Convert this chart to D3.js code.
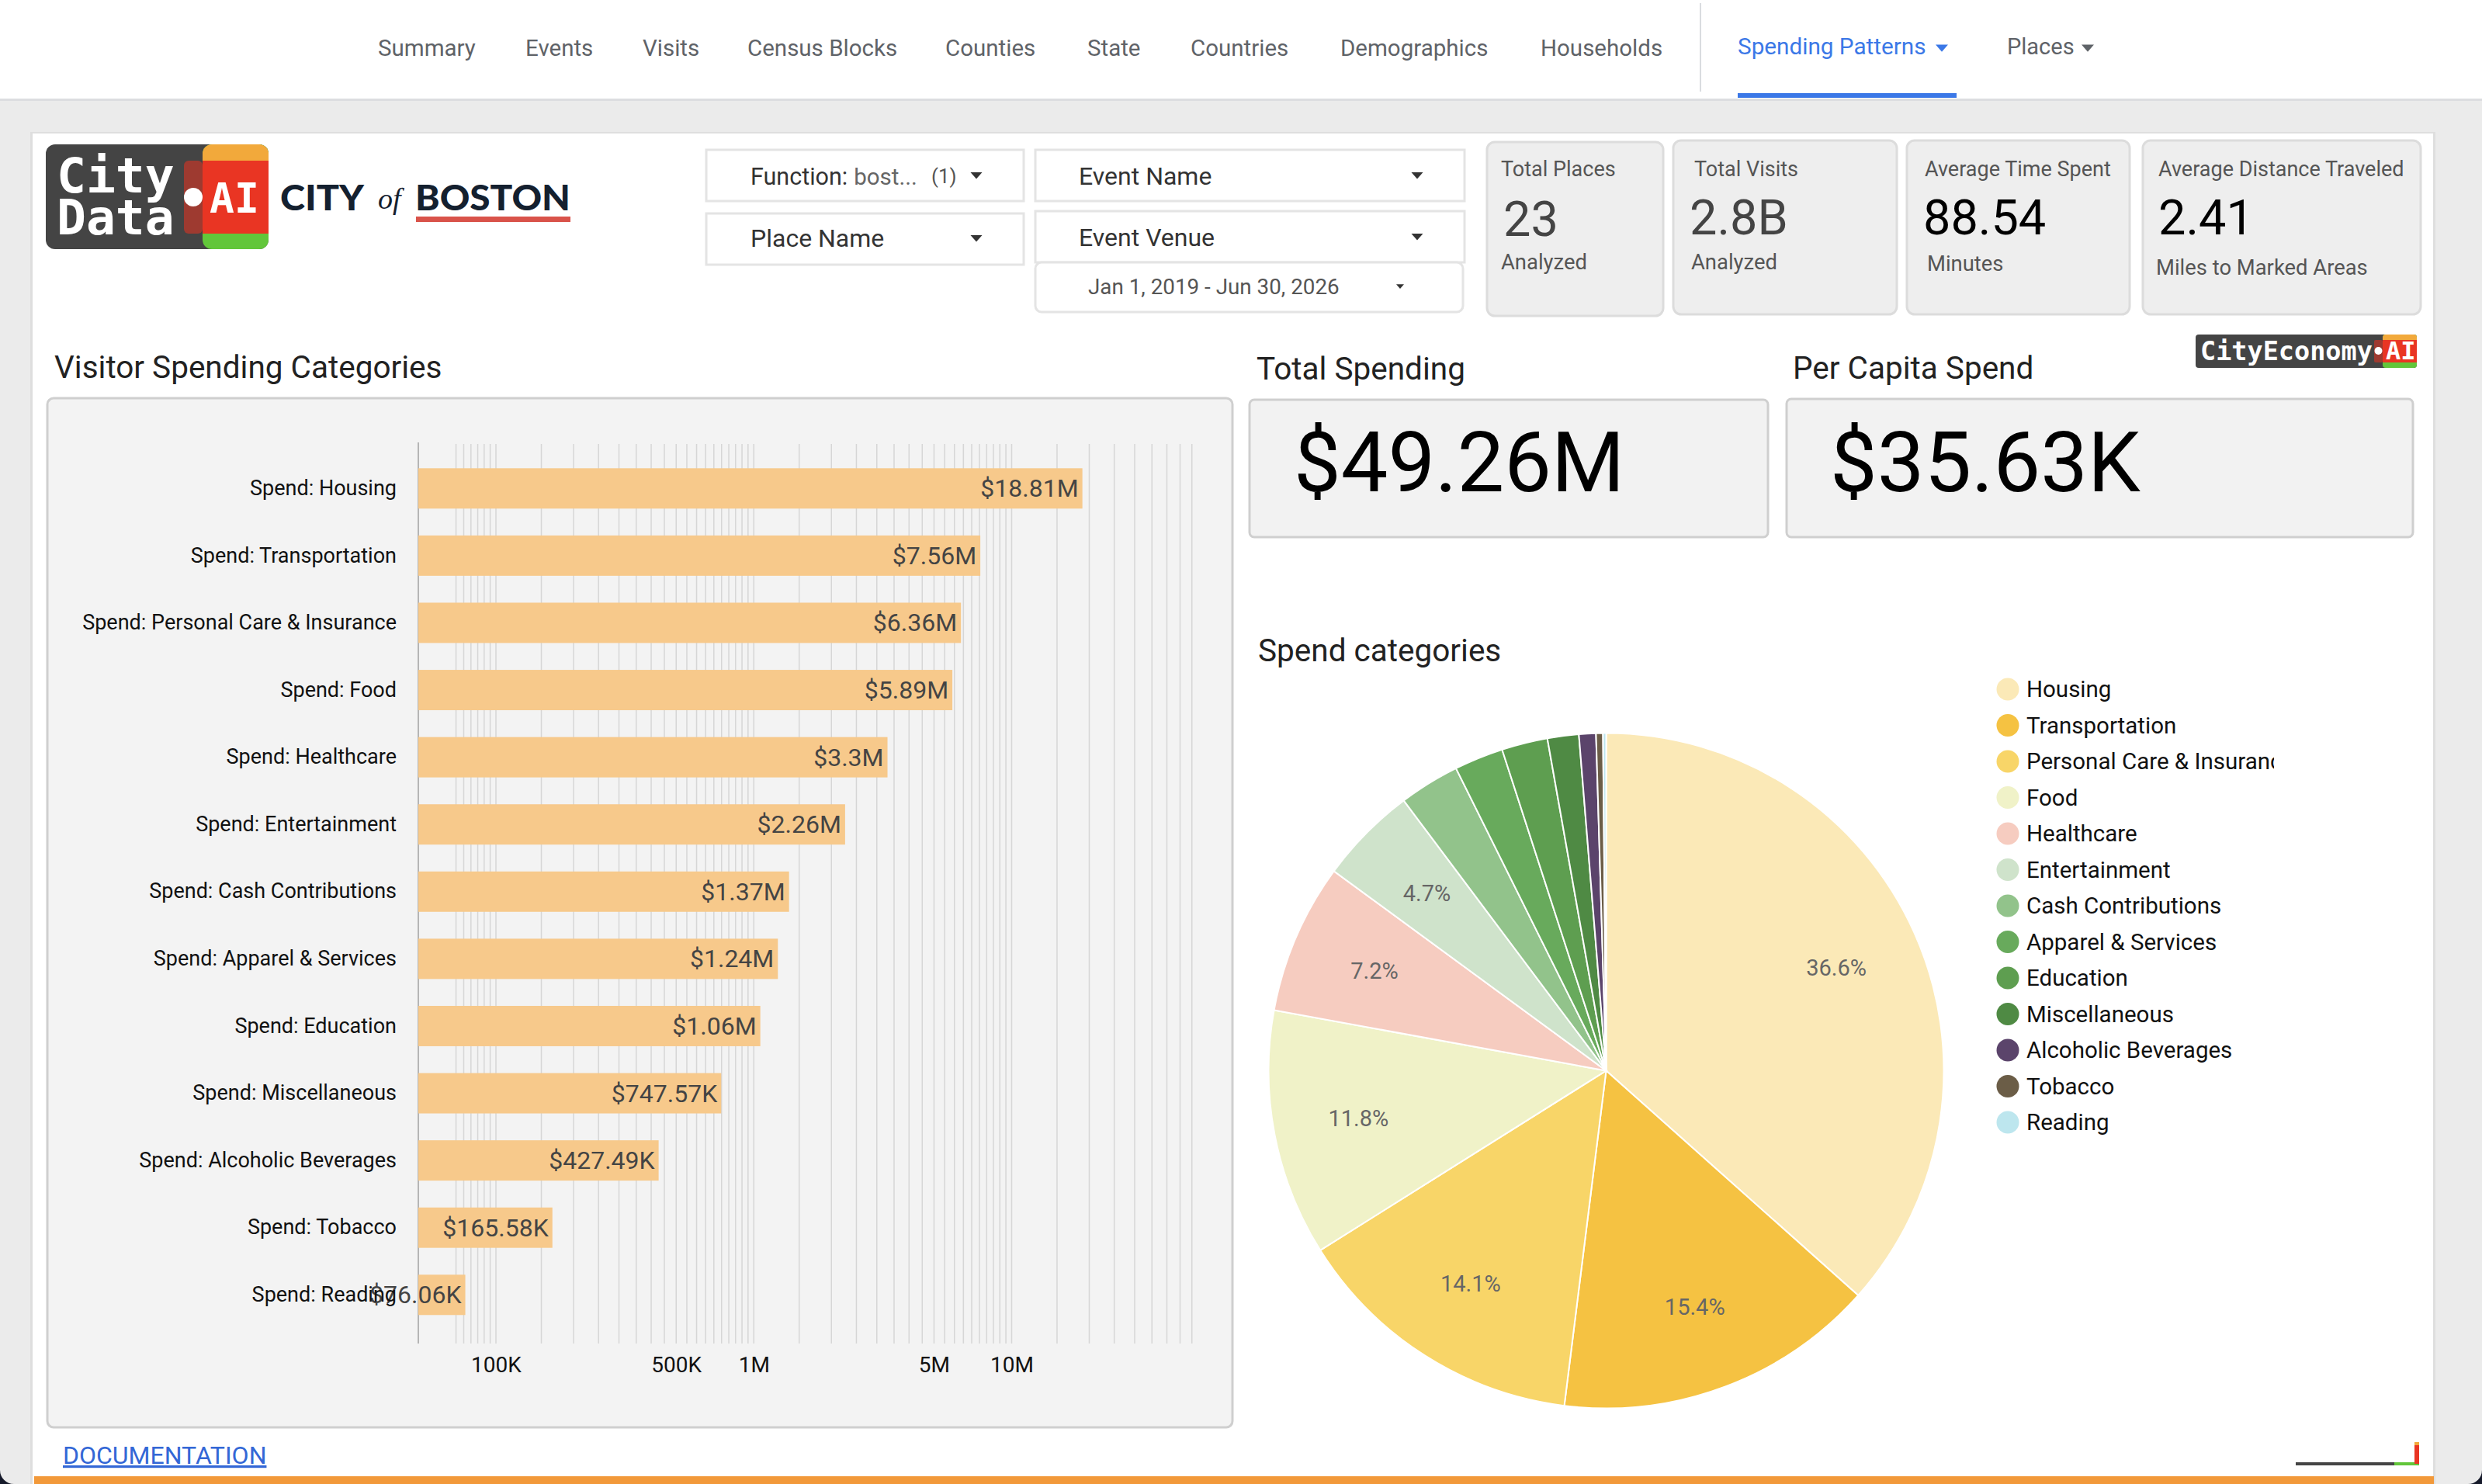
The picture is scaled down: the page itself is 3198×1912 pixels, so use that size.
<!DOCTYPE html>
<html>
<head>
<meta charset="utf-8">
<script src="https://d3js.org/d3.v7.min.js"></script>
<style>
  html, body { margin: 0; padding: 0; background: #ebebeb; }
  svg { display: block; }
  text { font-family: Roboto, sans-serif; }
</style>
</head>
<body>
<svg id="page" width="3198" height="1912" viewBox="0 0 3198 1912"></svg>
<script>
// bar chart data
var barCategories = ["Spend: Housing", "Spend: Transportation", "Spend: Personal Care & Insurance", "Spend: Food",
  "Spend: Healthcare", "Spend: Entertainment", "Spend: Cash Contributions", "Spend: Apparel & Services",
  "Spend: Education", "Spend: Miscellaneous", "Spend: Alcoholic Beverages", "Spend: Tobacco", "Spend: Reading"];
var barValues = [18810000, 7560000, 6360000, 5890000, 3300000, 2260000, 1370000, 1240000, 1060000, 747570, 427490, 165580, 76060];
var axisTicks = [100000, 500000, 1000000, 5000000, 10000000];
var axisTickLabels = ["100K", "500K", "1M", "5M", "10M"];

// pie data, percent of total
var pieCategories = ["Housing", "Transportation", "Personal Care & Insurance", "Food", "Healthcare", "Entertainment",
  "Cash Contributions", "Apparel & Services", "Education", "Miscellaneous", "Alcoholic Beverages", "Tobacco", "Reading"];
var pieShares = [36.6, 15.4, 14.1, 11.8, 7.2, 4.7, 2.9, 2.35, 2.2, 1.5, 0.81, 0.33, 0.15];
var pieColors = ["#FBE9B7", "#F5C242", "#F8D568", "#F0F2C8", "#F6CCC0", "#CFE3CB", "#92C38B", "#68AA5C", "#5E9E50",
  "#4F8A44", "#5B446B", "#6B5D47", "#BDE6EE"];

// page chrome text
var navLabels = ["Summary", "Events", "Visits", "Census Blocks", "Counties", "State", "Countries", "Demographics", "Households"];
var navStarts = [487, 677, 828, 963, 1218, 1401, 1534, 1727, 1985];
var kpiTitles = ["Total Places", "Total Visits", "Average Time Spent", "Average Distance Traveled"];
var kpiValues = ["23", "2.8B", "88.54", "2.41"];
var kpiNotes = ["Analyzed", "Analyzed", "Minutes", "Miles to Marked Areas"];

var svg = d3.select("#page");

function box(g, x, y, w, h, fill, stroke, r) {
  return g.append("rect").attr("x", x).attr("y", y).attr("width", w).attr("height", h)
    .attr("rx", r || 0).attr("fill", fill).attr("stroke", stroke || "none").attr("stroke-width", stroke ? 3 : 0);
}
function label(g, x, y, str, size, color, anchor) {
  return g.append("text").attr("x", x).attr("y", y).attr("font-size", size).attr("fill", color)
    .attr("text-anchor", anchor || "start").text(str);
}
function caret(g, x, y, s, color) {
  // small down pointing triangle
  g.append("path").attr("d", "M" + (x - s) + "," + (y - s * 0.55) + "H" + (x + s) + "L" + x + "," + (y + s * 0.6) + "Z").attr("fill", color);
}

// ---- page background and header
box(svg, 0, 0, 3198, 1912, "#ebebeb");
box(svg, 0, 0, 3198, 127, "#ffffff");
box(svg, 0, 127, 3198, 3, "#dcdde0");
box(svg, 39, 170, 3099, 1742, "#dedede");
box(svg, 42, 172, 3093, 1740, "#ffffff");

var nav = svg.append("g");
navLabels.forEach(function (d, i) { label(nav, navStarts[i], 72, d, 29.5, "#5f6368"); });
box(nav, 2190, 4, 2, 114, "#dadce0");
label(nav, 2239, 70, "Spending Patterns", 29.7, "#3b78e7");
caret(nav, 2502, 62, 8, "#3b78e7");
box(nav, 2239, 120, 282, 6, "#3b78e7");
label(nav, 2586, 70, "Places", 29, "#5f6368");
caret(nav, 2690, 62, 8, "#5f6368");

// ---- logos
function logo(g, o) {
  box(g, o.x0, o.y0, o.x1 - o.x0, o.y3 - o.y0, "#444444", null, o.r);
  box(g, o.x1 - o.cw, o.y0, o.cw, o.y3 - o.y0, "#62c63a", null, o.r);
  box(g, o.x1 - o.cw, o.y0, o.cw, (o.y3 - o.y0) * 0.5, "#f2a93b", null, o.r);
  box(g, o.x1 - o.cw, o.y1, o.cw, o.y2 - o.y1, "#e93523");
  box(g, o.x1 - o.cw - o.dw, o.y1, o.dw, o.y2 - o.y1, "#9e3a30", null, o.r / 2);
  g.append("circle").attr("cx", o.x1 - o.cw - o.dw / 2).attr("cy", o.dotY).attr("r", o.dotR).attr("fill", "#ffffff");
}
var lg = svg.append("g");
logo(lg, { x0: 59, x1: 346, y0: 186, y1: 207, y2: 301, y3: 321, cw: 85, dw: 24, r: 12, dotY: 254, dotR: 12 });
lg.selectAll("text.mono").data([["City", 248], ["Data", 302]]).join("text")
  .attr("x", 73).attr("y", function (d) { return d[1]; }).attr("fill", "#fff").attr("font-size", 63)
  .attr("font-weight", 700).style("font-family", "'DejaVu Sans Mono', monospace").text(function (d) { return d[0]; });
label(lg, 270, 274, "AI", 53, "#fff").attr("font-weight", 700).style("font-family", "'DejaVu Sans Mono', monospace");
label(lg, 361, 271, "CITY", 45, "#14202f").attr("font-weight", 900).style("font-family", "Lato, sans-serif")
  .attr("textLength", 108).attr("lengthAdjust", "spacingAndGlyphs");
label(lg, 487, 269, "of", 38, "#14202f").attr("font-style", "italic").style("font-family", "'Liberation Serif', serif");
label(lg, 535, 271, "BOSTON", 45, "#14202f").attr("font-weight", 900).style("font-family", "Lato, sans-serif")
  .attr("textLength", 200).attr("lengthAdjust", "spacingAndGlyphs");
box(lg, 536, 279, 199, 7, "#d9534a");

logo(lg, { x0: 2829, x1: 3114, y0: 431, y1: 438, y2: 467, y3: 474, cw: 44, dw: 11, r: 4, dotY: 452, dotR: 5 });
label(lg, 2835, 464, "CityEconomy", 33.5, "#fff").attr("font-weight", 700).style("font-family", "'DejaVu Sans Mono', monospace");
label(lg, 3074, 463, "AI", 32, "#fff").attr("font-weight", 700).style("font-family", "'DejaVu Sans Mono', monospace");

// ---- filter controls
var filters = svg.append("g");
box(filters, 910, 193, 409, 66, "#fff", "#e4e4e4");
box(filters, 1334, 193, 553, 66, "#fff", "#e4e4e4");
box(filters, 910, 275, 409, 66, "#fff", "#e4e4e4");
box(filters, 1334, 272, 553, 66, "#fff", "#e4e4e4");
box(filters, 1334, 338, 551, 64, "#fff", "#e4e4e4", 8);
var fn = label(filters, 967, 238, "Function:", 30.5, "#333");
fn.append("tspan").attr("dx", 8).attr("font-size", 29.5).attr("fill", "#666").text("bost...");
label(filters, 1200, 236, "(1)", 26, "#555");
label(filters, 1390, 238, "Event Name", 32, "#333");
label(filters, 967, 318, "Place Name", 32, "#333");
label(filters, 1390, 317, "Event Venue", 32, "#333");
label(filters, 1402, 379, "Jan 1, 2019 - Jun 30, 2026", 27.8, "#555");
caret(filters, 1258, 226, 7.5, "#333");
caret(filters, 1826, 226, 7.5, "#333");
caret(filters, 1258, 307, 7.5, "#333");
caret(filters, 1826, 305, 7.5, "#333");
caret(filters, 1804, 369, 5, "#333");

// ---- KPI tiles
var kpiX = [1916, 2156, 2457, 2761], kpiW = [227, 288, 287, 358], kpiY = [183, 181, 181, 181];
var kpiTitleX = [1934, 2183, 2480, 2781], kpiValueX = [1937, 2177, 2478, 2781], kpiNoteX = [1934, 2179, 2483, 2778];
var kpiValueY = [304, 302, 302, 302], kpiNoteY = [347, 347, 349, 354], kpiValueColor = ["#444", "#444", "#000", "#000"];
var kpi = svg.append("g");
kpiTitles.forEach(function (d, i) {
  box(kpi, kpiX[i], kpiY[i], kpiW[i], 224, "#eeeeee", "#dcdcdc", 10);
  label(kpi, kpiTitleX[i], 227, d, 27, "#555");
  label(kpi, kpiValueX[i], kpiValueY[i], kpiValues[i], 63, kpiValueColor[i]);
  label(kpi, kpiNoteX[i], kpiNoteY[i], kpiNotes[i], 27.4, "#555");
});

// ---- section titles and big numbers
var heads = svg.append("g");
label(heads, 70, 487, "Visitor Spending Categories", 40.5, "#222");
label(heads, 1619, 489, "Total Spending", 40.5, "#222");
label(heads, 2310, 488, "Per Capita Spend", 40.5, "#222");
label(heads, 1621, 852, "Spend categories", 40.5, "#222");
box(heads, 1610, 515, 668, 177, "#f2f2f2", "#cfcfcf", 6);
box(heads, 2302, 514, 807, 178, "#f2f2f2", "#cfcfcf", 6);
label(heads, 1667, 633, "$49.26M", 108, "#000");
label(heads, 2358, 633, "$35.63K", 108, "#000");

// ---- bar chart
box(svg, 61, 513, 1527, 1326, "#f3f3f3", "#cfcfcf", 8);

var x = d3.scaleLog().domain([50000, 50000000]).range([539, 1535.7]);
var y = d3.scaleBand().domain(barCategories).range([586, 1711.6]).paddingInner(0.4).paddingOuter(0.2);

// grid lines every 5K / 50K / 500K / 5M depending on the decade
var gridValues = d3.range(70000, 100001, 5000)
  .concat(d3.range(150000, 1000001, 50000))
  .concat(d3.range(1500000, 10000001, 500000))
  .concat(d3.range(15000000, 50000001, 5000000));

var chart = svg.append("g");
chart.append("g").selectAll("line").data(gridValues).join("line")
  .attr("x1", function (d) { return x(d); }).attr("x2", function (d) { return x(d); })
  .attr("y1", 572).attr("y2", 1731).attr("stroke", "#d6d6d6").attr("stroke-width", 1.5);
chart.append("line").attr("x1", 539).attr("x2", 539).attr("y1", 570).attr("y2", 1731)
  .attr("stroke", "#b5b5b5").attr("stroke-width", 2);

chart.append("g").selectAll("rect").data(barCategories).join("rect")
  .attr("x", x.range()[0]).attr("y", function (d) { return y(d); })
  .attr("width", function (d, i) { return x(barValues[i]) - x.range()[0]; })
  .attr("height", y.bandwidth()).attr("fill", "#F7C98B");

function money(v) {
  return v >= 1e6 ? "$" + (+(v / 1e6).toFixed(2)) + "M" : "$" + (+(v / 1e3).toFixed(2)) + "K";
}
chart.append("g").selectAll("text").data(barCategories).join("text")
  .attr("x", function (d, i) { return x(barValues[i]) - 5; })
  .attr("y", function (d) { return y(d) + y.bandwidth() / 2 + 11; })
  .attr("text-anchor", "end").attr("font-size", 32).attr("fill", "#444")
  .text(function (d, i) { return money(barValues[i]); });

var yAxis = chart.append("g").attr("transform", "translate(539,0)")
  .call(d3.axisLeft(y).tickSize(0).tickPadding(28));
yAxis.select(".domain").remove();
yAxis.selectAll("text").attr("font-size", 27).attr("fill", "#111").style("font-family", "Roboto, sans-serif");

var xAxis = chart.append("g").attr("transform", "translate(0,1731)")
  .call(d3.axisBottom(x).tickValues(axisTicks).tickSize(0).tickPadding(17)
    .tickFormat(function (d, i) { return axisTickLabels[i]; }));
xAxis.select(".domain").remove();
xAxis.selectAll("text").attr("font-size", 28).attr("fill", "#111").style("font-family", "Roboto, sans-serif");

// ---- pie
var pieR = 435;
var pieG = svg.append("g").attr("transform", "translate(2069.5,1379.5)");
var pieLayout = d3.pie().sort(null).value(function (d) { return d; });
var arc = d3.arc().innerRadius(0).outerRadius(pieR);
var labelArc = d3.arc().innerRadius(325).outerRadius(325);
var slices = pieLayout(pieShares);

pieG.selectAll("path").data(slices).join("path")
  .attr("d", arc).attr("fill", function (d, i) { return pieColors[i]; })
  .attr("stroke", "#fff").attr("stroke-width", 2);

pieG.selectAll("text").data(slices.filter(function (d) { return d.value >= 4; })).join("text")
  .attr("transform", function (d) { return "translate(" + labelArc.centroid(d) + ")"; })
  .attr("dy", 10).attr("text-anchor", "middle").attr("font-size", 29).attr("fill", "#666")
  .text(function (d) { return d.value + "%"; });

// legend, long names get cut at the legend edge
svg.append("clipPath").attr("id", "legendClip").append("rect")
  .attr("x", 2560).attr("y", 860).attr("width", 370).attr("height", 620);
var legendY = d3.scalePoint().domain(pieCategories).range([888, 1446]);
var legend = svg.append("g").attr("clip-path", "url(#legendClip)");
legend.selectAll("circle").data(pieCategories).join("circle")
  .attr("cx", 2587).attr("cy", function (d) { return legendY(d); }).attr("r", 14.5)
  .attr("fill", function (d, i) { return pieColors[i]; });
legend.selectAll("text").data(pieCategories).join("text")
  .attr("x", 2611).attr("y", function (d) { return legendY(d) + 10; })
  .attr("font-size", 29.5).attr("fill", "#111").text(function (d) { return d; });

// ---- footer bits
var link = label(svg, 81, 1886, "DOCUMENTATION", 32, "#3367d6").attr("text-decoration", "underline");
box(svg, 44, 1902, 3092, 10, "#f2993a");
box(svg, 2958, 1884, 127, 4, "#444");
box(svg, 3085, 1884, 32, 4, "#62c63a");
box(svg, 3111, 1862, 6, 24, "#e93523");
box(svg, 3111, 1858, 6, 4, "#f2a93b");
// window corners of the screenshot
svg.append("path").attr("d", "M3198,1912H3180A18,18 0 0 0 3198,1894Z").attr("fill", "#161a2b");
svg.append("path").attr("d", "M0,1912H18A18,18 0 0 1 0,1894Z").attr("fill", "#161a2b");
</script>
</body>
</html>
